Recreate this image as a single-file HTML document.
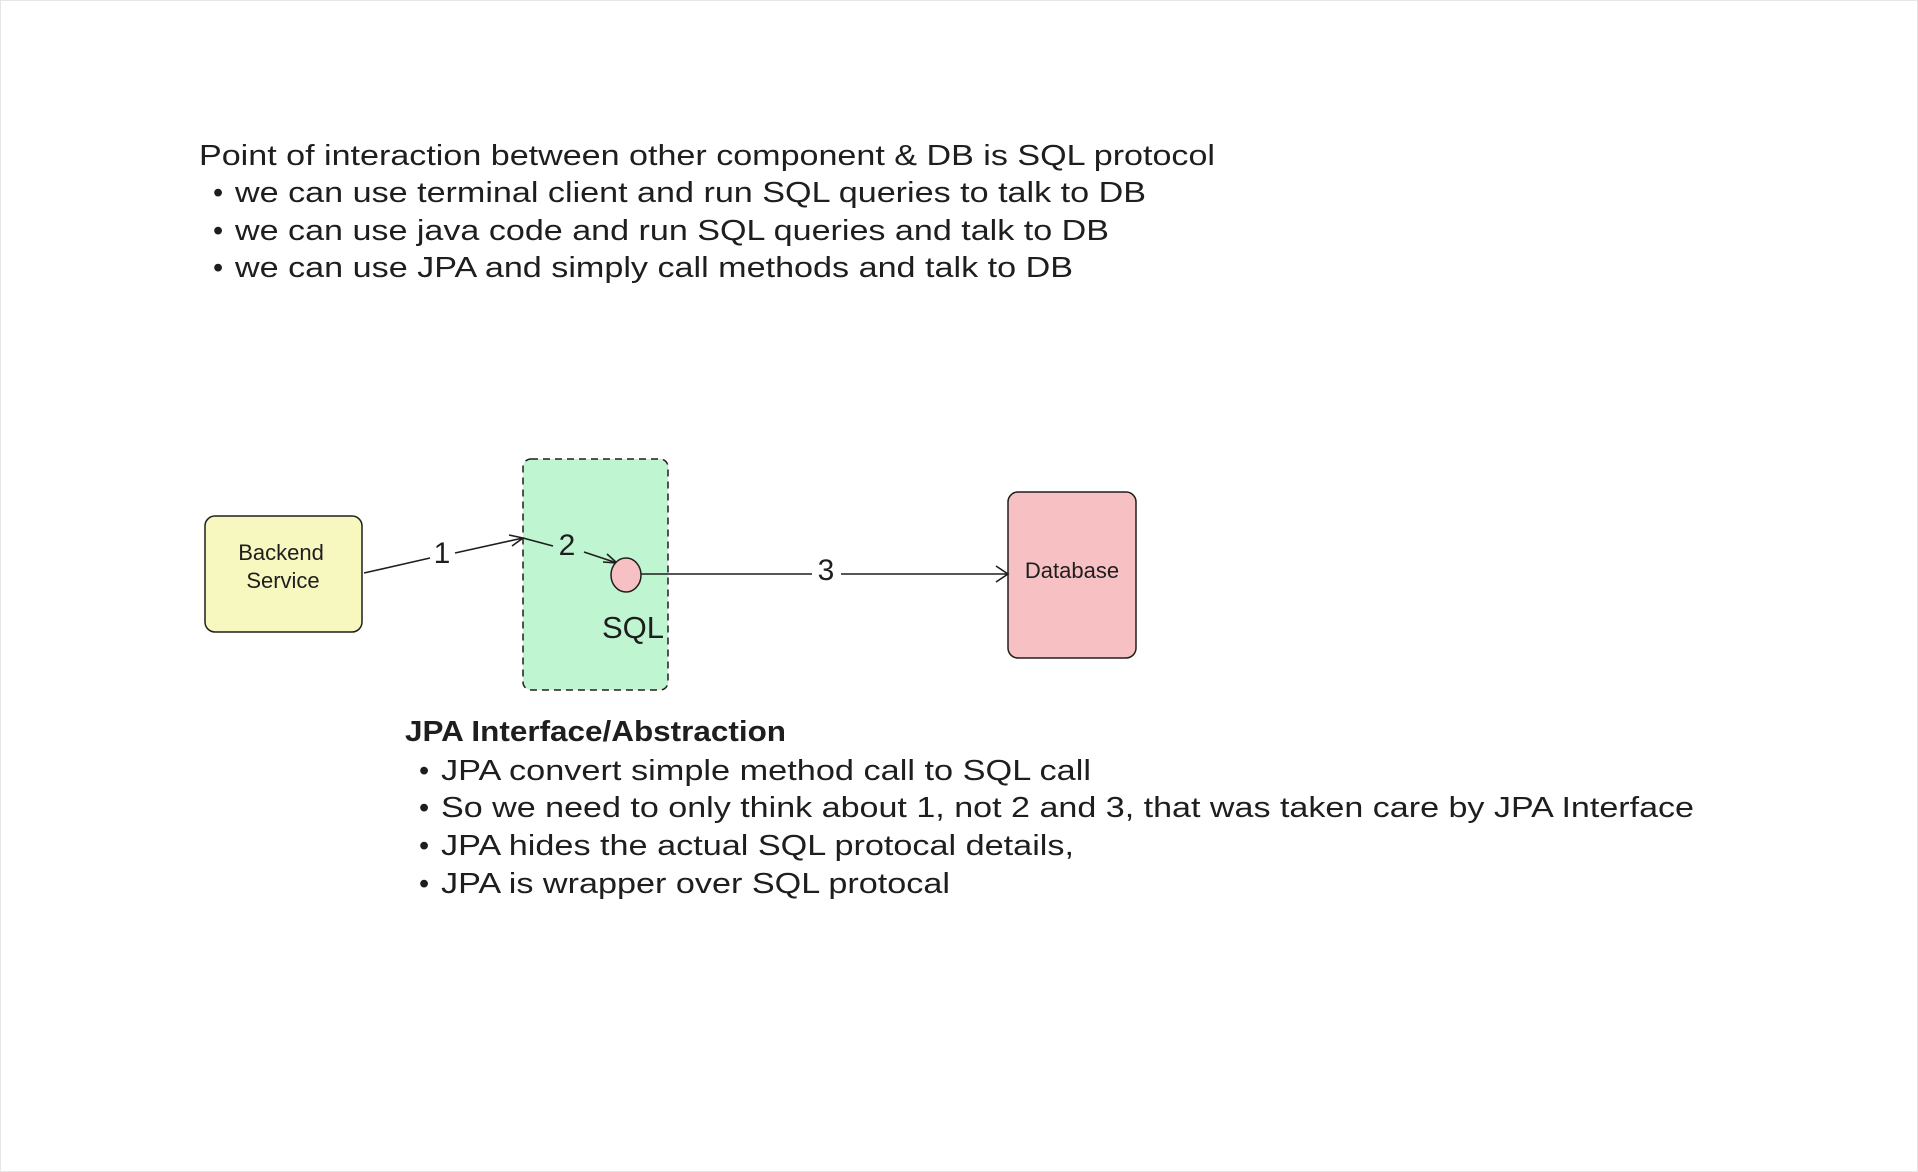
<!DOCTYPE html>
<html><head><meta charset="utf-8"><style>
html,body{margin:0;padding:0;background:#fff;}
svg{display:block;}
text{font-family:"Liberation Sans",sans-serif;fill:#1e1e1e;}
</style></head><body>
<svg width="1918" height="1172" viewBox="0 0 1918 1172" xmlns="http://www.w3.org/2000/svg">
<rect x="0.5" y="0.5" width="1917" height="1171" fill="#fff" stroke="#e6e6e6"/>
<g font-size="29">
<text x="199" y="165" textLength="1016" lengthAdjust="spacingAndGlyphs">Point of interaction between other component &amp; DB is SQL protocol</text>
<text x="213" y="202">•</text>
<text x="235" y="202" textLength="911" lengthAdjust="spacingAndGlyphs">we can use terminal client and run SQL queries to talk to DB</text>
<text x="213" y="240">•</text>
<text x="235" y="240" textLength="874" lengthAdjust="spacingAndGlyphs">we can use java code and run SQL queries and talk to DB</text>
<text x="213" y="277">•</text>
<text x="235" y="277" textLength="838" lengthAdjust="spacingAndGlyphs">we can use JPA and simply call methods and talk to DB</text>

<text x="405" y="741" font-weight="bold" textLength="381" lengthAdjust="spacingAndGlyphs">JPA Interface/Abstraction</text>
<text x="419" y="780">•</text>
<text x="441" y="780" textLength="650" lengthAdjust="spacingAndGlyphs">JPA convert simple method call to SQL call</text>
<text x="419" y="817">•</text>
<text x="441" y="817" textLength="1253" lengthAdjust="spacingAndGlyphs">So we need to only think about 1, not 2 and 3, that was taken care by JPA Interface</text>
<text x="419" y="855">•</text>
<text x="441" y="855" textLength="633" lengthAdjust="spacingAndGlyphs">JPA hides the actual SQL protocal details,</text>
<text x="419" y="893">•</text>
<text x="441" y="893" textLength="509" lengthAdjust="spacingAndGlyphs">JPA is wrapper over SQL protocal</text>
</g>

<rect x="205" y="516" width="157" height="116" rx="10" fill="#f7f7c0" stroke="#1e1e1e" stroke-width="1.5"/>
<text x="281" y="560" font-size="22" text-anchor="middle">Backend</text>
<text x="283" y="588" font-size="22" text-anchor="middle">Service</text>

<rect x="523" y="459" width="145" height="231" rx="8" fill="#bff5d1" stroke="#1e1e1e" stroke-width="1.5" stroke-dasharray="7 5"/>

<rect x="1008" y="492" width="128" height="166" rx="10" fill="#f7c1c4" stroke="#1e1e1e" stroke-width="1.5"/>
<text x="1072" y="578" font-size="22" text-anchor="middle">Database</text>

<g stroke="#1e1e1e" stroke-width="1.6" fill="none">
<path d="M364 573 L430 558"/>
<path d="M455 553 L523 538"/>
<path d="M509 535 L523 538 L512 546"/>
<path d="M523 538 L553 546"/>
<path d="M584 552 L617 563"/>
<path d="M603 562 L617 563 L607 554"/>
<path d="M641 574 L812 574"/>
<path d="M841 574 L1008 574"/>
<path d="M996 566 L1008 574 L996 582"/>
</g>
<ellipse cx="626" cy="575" rx="15" ry="17" fill="#f7c1c4" stroke="#1e1e1e" stroke-width="1.5"/>

<text x="442" y="563" font-size="30" text-anchor="middle">1</text>
<text x="567" y="555" font-size="30" text-anchor="middle">2</text>
<text x="826" y="580" font-size="30" text-anchor="middle">3</text>
<text x="633" y="638" font-size="31" text-anchor="middle">SQL</text>
</svg>
</body></html>
